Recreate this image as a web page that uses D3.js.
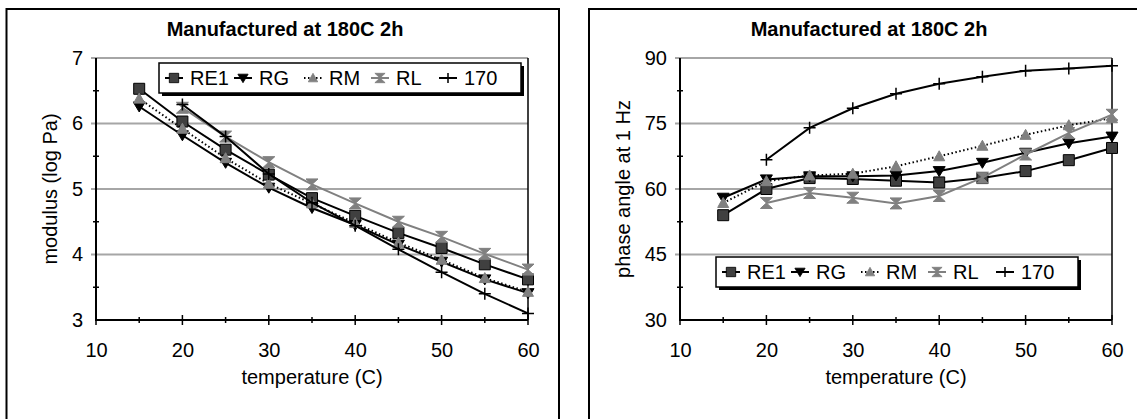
<!DOCTYPE html>
<html><head><meta charset="utf-8">
<script src="https://cdn.jsdelivr.net/npm/d3@7"></script>
<style>body{margin:0;background:#fff} text{font-family:Arial,"Liberation Sans",sans-serif;fill:#000}</style>
</head><body><svg id="c" width="1137" height="419"></svg>
<script>
// ---- data ----
const temperature = [15,20,25,30,35,40,45,50,55,60];
const seriesNames = ["RE1","RG","RM","RL","170"];
// modulus (log Pa)
const modRE1 = [6.53,6.03,5.60,5.22,4.86,4.59,4.33,4.10,3.85,3.62];
const modRG  = [6.26,5.82,5.40,5.02,4.71,4.45,4.15,3.89,3.62,3.41];
const modRM  = [6.38,5.92,5.47,5.08,4.78,4.48,4.18,3.92,3.64,3.43];
const modRL  = [null,6.24,5.80,5.41,5.07,4.78,4.50,4.27,4.01,3.77];
const mod170 = [null,6.29,5.80,5.23,4.79,4.44,4.08,3.73,3.40,3.10];
// phase angle at 1 Hz
const phRE1 = [54.0,60.0,62.5,62.3,61.9,61.5,62.5,64.1,66.6,69.4];
const phRG  = [58.0,62.2,62.9,62.9,63.1,64.1,66.0,68.3,70.5,72.0];
const phRM  = [56.8,61.8,63.1,63.5,65.2,67.5,69.9,72.4,74.6,76.2];
const phRL  = [null,56.8,59.1,58.0,56.7,58.4,62.6,67.9,72.8,77.0];
const ph170 = [null,66.7,74.0,78.5,81.8,84.1,85.7,87.1,87.6,88.2];
const xTicks = [10,20,30,40,50,60];
const modTicks = [3,4,5,6,7];
const phaseTicks = [30,45,60,75,90];
const chartTitle = "Manufactured at 180C 2h";
const xTitle = "temperature (C)";

// ---- styles ----
const styles = {
  "RE1": {stroke:"#000", dash:null, marker:"square", fill:"#404040", mstroke:"#000"},
  "RG":  {stroke:"#000", dash:null, marker:"down", fill:"#000", mstroke:"#000"},
  "RM":  {stroke:"#000", dash:"1.5,2.5", marker:"up", fill:"#808080", mstroke:"#808080"},
  "RL":  {stroke:"#808080", dash:null, marker:"hourglass", fill:"#808080", mstroke:"#808080"},
  "170": {stroke:"#000", dash:null, marker:"plus", fill:"none", mstroke:"#000"}
};
function markerPath(type){
  switch(type){
    case "square": return "M-5.5,-5.5H5.5V5.5H-5.5Z";
    case "down": return "M-6,-4.5H6L0,5.5Z";
    case "up": return "M-5.5,4.5H5.5L0,-5.5Z";
    case "hourglass": return "M-6,-5.5H6L0,0ZM-6,5.5H6L0,0Z";
    case "plus": return "M-6,0H6M0,-6V6";
  }
}

const svg = d3.select("#c");
const FONT = "Arial, 'Liberation Sans', sans-serif";

function drawPanel(cfg){
  const g = svg.append("g");
  // outer frame
  g.append("rect").attr("x",cfg.frameX).attr("y",9).attr("width",cfg.frameW).attr("height",440)
    .attr("fill","none").attr("stroke","#000").attr("stroke-width",2);
  const x = d3.scaleLinear().domain([10,60]).range([cfg.left, cfg.left+432]);
  const y = d3.scaleLinear().domain(cfg.yDomain).range([320,58]);
  // title
  g.append("text").attr("x",(x.range()[0]+x.range()[1])/2 - 27).attr("y",36)
    .attr("text-anchor","middle").attr("font-size",20).attr("font-weight","bold").text(chartTitle);
  // gridlines (major y ticks)
  g.selectAll(".grid").data(cfg.yTicks).enter().append("line")
    .attr("x1",x(10)-5).attr("x2",x(60)).attr("y1",d=>y(d)).attr("y2",d=>y(d))
    .attr("stroke",d=>d===cfg.yTicks[0]?"none":"#a6a6a6").attr("stroke-width",2);
  // right plot border
  g.append("line").attr("x1",x(60)).attr("x2",x(60)).attr("y1",y(cfg.yDomain[1])).attr("y2",y(cfg.yDomain[0]))
    .attr("stroke","#000").attr("stroke-width",1.5);
  // y minor ticks
  const ymin = d3.range(cfg.yTicks.length-1).map(i=>(cfg.yTicks[i]+cfg.yTicks[i+1])/2);
  g.selectAll(".ymin").data(ymin).enter().append("line")
    .attr("x1",x(10)-3).attr("x2",x(10)+3).attr("y1",d=>y(d)).attr("y2",d=>y(d))
    .attr("stroke","#000").attr("stroke-width",1.5);
  // y axis
  const yAxis = d3.axisLeft(y).tickValues(cfg.yTicks).tickFormat(d3.format("d")).tickSize(0).tickPadding(13);
  const ya = g.append("g").attr("transform",`translate(${x(10)},0)`).call(yAxis);
  ya.select(".domain").remove();
  ya.selectAll("text").attr("font-size",20).style("font-family",FONT);
  g.append("line").attr("x1",x(10)).attr("x2",x(10)).attr("y1",y(cfg.yDomain[1])).attr("y2",y(cfg.yDomain[0])+1)
    .attr("stroke","#000").attr("stroke-width",2);
  // x axis
  const xAll = d3.range(10,61,5);
  g.selectAll(".xt").data(xAll).enter().append("line")
    .attr("x1",d=>x(d)).attr("x2",d=>x(d))
    .attr("y1",d=>y(cfg.yDomain[0])-(d%10===0?5:3)).attr("y2",d=>y(cfg.yDomain[0])+(d%10===0?5:3))
    .attr("stroke","#000").attr("stroke-width",1.5);
  const xAxis = d3.axisBottom(x).tickValues(xTicks).tickFormat(d3.format("d")).tickSize(0).tickPadding(23);
  const xa = g.append("g").attr("transform",`translate(0,${y(cfg.yDomain[0])})`).call(xAxis);
  xa.select(".domain").remove();
  xa.selectAll("text").attr("font-size",20).style("font-family",FONT);
  g.append("line").attr("x1",x(10)).attr("x2",x(60)).attr("y1",y(cfg.yDomain[0])).attr("y2",y(cfg.yDomain[0]))
    .attr("stroke","#000").attr("stroke-width",2);
  // axis titles
  g.append("text").attr("x",(x(10)+x(60))/2).attr("y",384).attr("text-anchor","middle")
    .attr("font-size",20).text(xTitle);
  g.append("text").attr("transform",`translate(${x(10)-cfg.yTitleOff},${(y.range()[0]+y.range()[1])/2}) rotate(-90)`)
    .attr("text-anchor","middle").attr("font-size",20).text(cfg.yTitle);
  // series
  const line = d3.line().defined(d=>d[1]!=null).x(d=>x(d[0])).y(d=>y(d[1]));
  cfg.series.forEach((vals,i)=>{
    const name = seriesNames[i], st = styles[name];
    const pts = temperature.map((t,j)=>[t,vals[j]]);
    g.append("path").attr("d",line(pts)).attr("fill","none").attr("stroke",st.stroke)
      .attr("stroke-width",2).attr("stroke-dasharray",st.dash);
    g.selectAll(null).data(pts.filter(d=>d[1]!=null)).enter().append("path")
      .attr("transform",d=>`translate(${x(d[0])},${y(d[1])})`)
      .attr("d",markerPath(st.marker)).attr("fill",st.fill).attr("stroke",st.mstroke)
      .attr("stroke-width",st.marker==="plus"?1.5:1);
  });
  // legend
  const lg = g.append("g").attr("transform",`translate(${cfg.legX},${cfg.legY})`);
  lg.append("rect").attr("x",3).attr("y",3).attr("width",362).attr("height",30).attr("fill","#000");
  lg.append("rect").attr("x",0).attr("y",0).attr("width",362).attr("height",30).attr("fill","#fff")
    .attr("stroke","#000").attr("stroke-width",1.5);
  const textX = [31,100,170,237,305];
  seriesNames.forEach((name,i)=>{
    const st = styles[name], tx = textX[i], cx = tx-16;
    lg.append("line").attr("x1",cx-9).attr("x2",cx+9).attr("y1",15).attr("y2",15)
      .attr("stroke",st.stroke).attr("stroke-width",2).attr("stroke-dasharray",st.dash);
    lg.append("path").attr("transform",`translate(${cx},15) scale(0.85)`).attr("d",markerPath(st.marker))
      .attr("fill",st.fill).attr("stroke",st.mstroke).attr("stroke-width",st.marker==="plus"?1.8:1);
    lg.append("text").attr("x",tx).attr("y",22).attr("font-size",20).text(name);
  });
}

drawPanel({frameX:6.5, frameW:552.5, left:96, yDomain:[3,7], yTicks:modTicks, yTitleOff:39,
  yTitle:"modulus (log Pa)", series:[modRE1,modRG,modRM,modRL,mod170], legX:159, legY:63});
drawPanel({frameX:589, frameW:560, left:680, yDomain:[30,90], yTicks:phaseTicks, yTitleOff:50,
  yTitle:"phase angle at 1 Hz", series:[phRE1,phRG,phRM,phRL,ph170], legX:716, legY:257});
</script></body></html>
